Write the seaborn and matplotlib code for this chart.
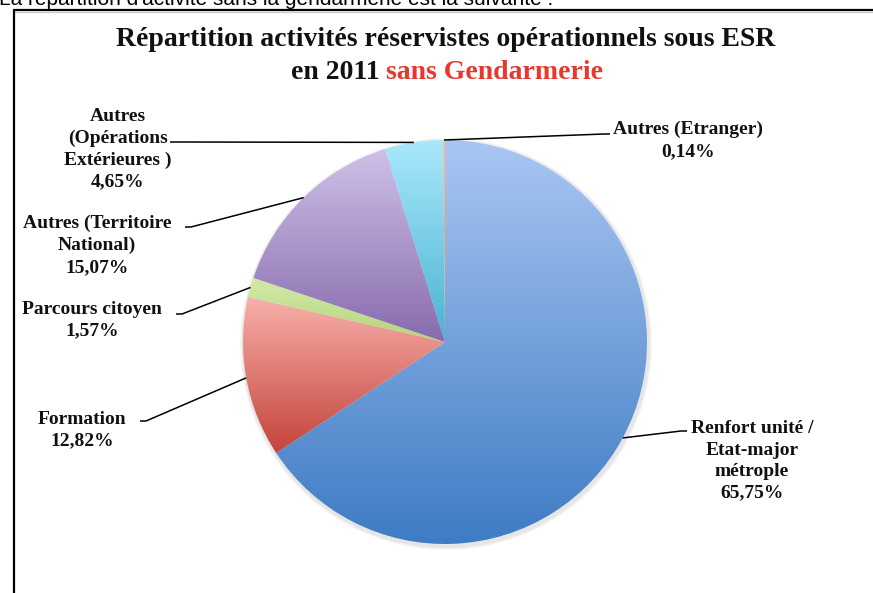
import numpy as np
import matplotlib
matplotlib.use("Agg")
import matplotlib.pyplot as plt
import seaborn as sns
from matplotlib.colors import LinearSegmentedColormap

# ==============================================================================
# DONNÉES
# ==============================================================================
categories = [
    "Renfort unité /\nEtat-major\nmétrople",
    "Formation",
    "Parcours citoyen",
    "Autres (Territoire\nNational)",
    "Autres\n(Opérations\nExtérieures )",
    "Autres (Etranger)",
]
pourcentages = [65.75, 12.82, 1.57, 15.07, 4.65, 0.14]
etiquettes_pct = ["65,75%", "12,82%", "1,57%", "15,07%", "4,65%", "0,14%"]

# couleurs haut / bas du dégradé de chaque part
couleurs = [
    ("#aac6f3", "#3e7cc4"),
    ("#f8b0ab", "#c4433a"),
    ("#d3eaa9", "#b3d57c"),
    ("#cfc0e8", "#876bac"),
    ("#aae8fc", "#48b3d1"),
    ("#f3c08a", "#e39a55"),
]

# position des étiquettes (pixels, origine en bas à gauche)
pos_textes = [(752, 593 - 420), (82, 593 - 411), (92, 593 - 301),
              (97, 593 - 215), (118, 593 - 108), (688, 593 - 121)]
coude = [(687, 593 - 431), (140, 593 - 421), (176, 593 - 314),
         (185, 593 - 227), (170, 593 - 142), (610, 593 - 134)]

W, H = 873, 593
CX, CY, R = 445, 593 - 342, 202

# ==============================================================================
# FIGURE
# ==============================================================================
sns.set_theme(style="white")
plt.rcParams["font.family"] = ["Liberation Serif", "DejaVu Serif"]

fig = plt.figure(figsize=(W / 100, H / 100), dpi=100)
ax = fig.add_axes([0, 0, 1, 1])

# ombre légère autour du disque
for k, c in enumerate(["#f2f2f2", "#e6e6e6"]):
    ax.add_patch(plt.Circle((CX + 1, CY - 2), R + 3 - 1.5 * k, color=c, zorder=0.5))

wedges, _ = ax.pie(pourcentages, center=(CX, CY), radius=R, startangle=90,
                   counterclock=False, frame=True,
                   wedgeprops=dict(edgecolor="none", linewidth=0))

# dégradé vertical dans chaque part
grad = np.linspace(1, 0, 256).reshape(-1, 1)
for w, (haut, bas) in zip(wedges, couleurs):
    ext = w.get_path().get_extents()
    cmap = LinearSegmentedColormap.from_list("g", [bas, haut])
    im = ax.imshow(grad, cmap=cmap, aspect="auto", origin="upper",
                   extent=(ext.x0, ext.x1, ext.y0, ext.y1), zorder=1.5,
                   interpolation="bilinear")
    im.set_clip_path(w)
    w.set_alpha(0)

ax.set_xlim(0, W)
ax.set_ylim(0, H)
ax.set_aspect("equal")
ax.axis("off")

# étiquettes et traits de rappel
for w, cat, pct, (tx, ty), (kx, ky) in zip(wedges, categories, etiquettes_pct,
                                            pos_textes, coude):
    ang = np.deg2rad((w.theta1 + w.theta2) / 2)
    px, py = CX + R * np.cos(ang), CY + R * np.sin(ang)
    sens = 1 if kx < CX else -1
    ax.plot([kx, kx + 6 * sens, px], [ky, ky, py], color="black", lw=1.1,
            zorder=3, solid_capstyle="butt")
    ax.text(tx, ty, cat + "\n" + pct, ha="center", va="top", fontsize=14,
            fontweight="bold", linespacing=1.35, zorder=4, color="#111111")

# titre
taille_titre = 20
ax.text(446, 593 - 27, "Répartition activités réservistes opérationnels sous ESR",
        ha="center", va="top", fontsize=taille_titre, fontweight="bold", color="#111111")
t1 = ax.text(0, 593 - 60, "en 2011 ", ha="left", va="top",
             fontsize=taille_titre, fontweight="bold", color="#111111")
t2 = ax.text(0, 593 - 60, "sans Gendarmerie", ha="left", va="top",
             fontsize=taille_titre, fontweight="bold", color="#e8372c")
fig.canvas.draw()
inv = ax.transData.inverted()
l1 = t1.get_window_extent().transformed(inv).width
l2 = t2.get_window_extent().transformed(inv).width
x0 = 447 - (l1 + l2) / 2
t1.set_x(x0)
t2.set_x(x0 + l1)

# cadre et texte du document
ax.plot([13.5, 13.5], [0, 593 - 9.5], color="black", lw=1.6, zorder=5)
ax.plot([13.5, W], [593 - 9.5, 593 - 9.5], color="black", lw=1.6, zorder=5)
ax.plot([15, W], [593 - 11.5, 593 - 11.5], color="#cccccc", lw=1.0, zorder=4)
ax.text(-1, 593 - 5, "La répartition d'activité sans la gendarmerie est la suivante :",
        ha="left", va="baseline", fontsize=15, family=["Liberation Sans", "DejaVu Sans"],
        color="black")

fig.savefig("out.png", dpi=100)
